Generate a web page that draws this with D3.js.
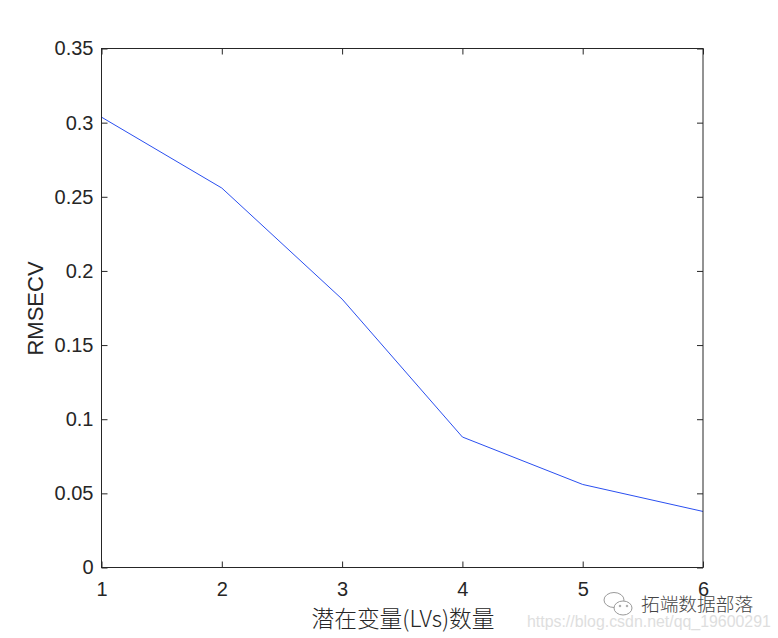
<html>
<head>
    <meta charset="utf-8">
    <script src="https://d3js.org/d3.v7.min.js"></script>
    <style>
        body { margin: 0; background: #fff; }
        svg { display: block; }
        text { font-family: "Liberation Sans", Arial, sans-serif; fill: #262626; }
    </style>
</head>
<body>

<script>
var lvs = [1, 2, 3, 4, 5, 6];
var rmsecv = [0.3037, 0.2559, 0.181, 0.088, 0.056, 0.0378];
var yTicks = [0, 0.05, 0.1, 0.15, 0.2, 0.25, 0.3, 0.35];
var yLabels = ["0", "0.05", "0.1", "0.15", "0.2", "0.25", "0.3", "0.35"];
var xTitle = "潜在变量(LVs)数量";
var yTitle = "RMSECV";
var markName = "拓端数据部落";
var markUrl = "https://blog.csdn.net/qq_19600291";

var w = 778, h = 638;
var left = 101.5, right = 703, top_ = 48.5, bottom = 567.5;
var tick = 6;
var axisColor = "#262626";

var xScale = d3.scaleLinear().domain([1, 6]).range([left, right]);
var yScale = d3.scaleLinear().domain([0, 0.35]).range([bottom, top_]);

var svg = d3.select("body").append("svg").attr("width", w).attr("height", h);

// line
var line = d3.line().x(function(d, i){ return xScale(lvs[i]); }).y(function(d){ return yScale(d); });
svg.append("path").attr("d", line(rmsecv)).attr("fill", "none").attr("stroke", "#2a4ff0").attr("stroke-width", 1);

// box
svg.append("rect").attr("x", left).attr("y", top_).attr("width", right - left).attr("height", bottom - top_)
    .attr("fill", "none").attr("stroke", axisColor).attr("stroke-width", 1);

// axes, ticks go inward on all four sides
function styleAxis(g) {
    g.select(".domain").remove();
    g.selectAll("line").attr("stroke", axisColor);
    g.selectAll("text").style("font-size", "20px").attr("fill", axisColor);
}
var xFmt = function(d){ return String(d); };
var yFmt = function(d){ return yLabels[yTicks.indexOf(d)]; };

svg.append("g").attr("transform", "translate(0," + bottom + ")")
    .call(d3.axisBottom(xScale).tickValues(lvs).tickFormat(xFmt).tickSizeInner(-tick).tickSizeOuter(0).tickPadding(14))
    .call(styleAxis);
svg.append("g").attr("transform", "translate(0," + top_ + ")")
    .call(d3.axisTop(xScale).tickValues(lvs).tickFormat("").tickSizeInner(-tick).tickSizeOuter(0))
    .call(styleAxis);
svg.append("g").attr("transform", "translate(" + left + ",0)")
    .call(d3.axisLeft(yScale).tickValues(yTicks).tickFormat(yFmt).tickSizeInner(-tick).tickSizeOuter(0).tickPadding(8))
    .call(styleAxis);
svg.append("g").attr("transform", "translate(" + right + ",0)")
    .call(d3.axisRight(yScale).tickValues(yTicks).tickFormat("").tickSizeInner(-tick).tickSizeOuter(0))
    .call(styleAxis);

// titles
svg.append("text").attr("x", 403).attr("y", 627).attr("text-anchor", "middle")
    .style("font-family", '"Noto Sans CJK SC", "Liberation Sans"').style("font-size", "22.7px").style("font-weight", 300).text(xTitle);
svg.append("text").attr("transform", "translate(43,308.5) rotate(-90)").attr("text-anchor", "middle")
    .style("font-size", "22px").text(yTitle);

// watermark
svg.append("text").attr("x", 527).attr("y", 627).style("font-size", "15.9px").style("fill", "#dedede").text(markUrl);
var icon = svg.append("g").attr("fill", "#fff").attr("stroke", "#9a9a9a").attr("stroke-width", 1);
icon.append("ellipse").attr("cx", 614).attr("cy", 600).attr("rx", 10).attr("ry", 7.5);
icon.append("ellipse").attr("cx", 623).attr("cy", 608).attr("rx", 9).attr("ry", 7);
icon.append("circle").attr("cx", 620).attr("cy", 606).attr("r", 0.8);
icon.append("circle").attr("cx", 627).attr("cy", 606).attr("r", 0.8);
svg.append("text").attr("x", 641).attr("y", 611)
    .style("font-family", '"Noto Sans CJK SC"').style("font-size", "18.7px").style("font-weight", 300).style("fill", "#444").text(markName);
</script>

</body>
</html>
